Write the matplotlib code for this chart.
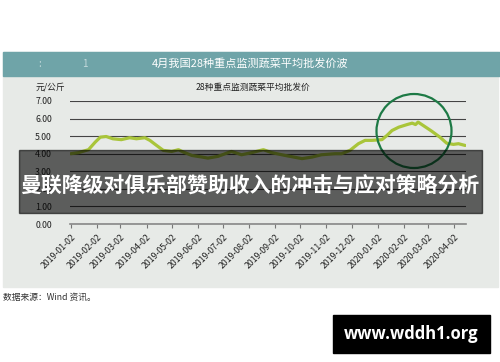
import matplotlib
matplotlib.use("Agg")
import matplotlib.pyplot as plt
import matplotlib.dates as mdates
import matplotlib.patches as mpatches
import numpy as np
import pandas as pd

plt.rcParams['font.family'] = ['Noto Sans CJK SC', 'DejaVu Sans']

# data (元/公斤)
dates = ["2019-01-02", "2019-01-11", "2019-01-23", "2019-01-31", "2019-02-06",
         "2019-02-13", "2019-02-21", "2019-03-03", "2019-03-13", "2019-03-21",
         "2019-03-31", "2019-04-06", "2019-04-14", "2019-04-22", "2019-05-02",
         "2019-05-10", "2019-05-16", "2019-05-26", "2019-06-07", "2019-06-14",
         "2019-06-26", "2019-07-12", "2019-07-24", "2019-08-05", "2019-08-19",
         "2019-08-29", "2019-09-14", "2019-10-04", "2019-10-16", "2019-10-27",
         "2019-11-12", "2019-11-20", "2019-11-30", "2019-12-10", "2019-12-18",
         "2019-12-26", "2020-01-07", "2020-01-13", "2020-01-19", "2020-01-27",
         "2020-02-06", "2020-02-12", "2020-02-16", "2020-02-19", "2020-02-25",
         "2020-03-06", "2020-03-16", "2020-03-24", "2020-04-01", "2020-04-07",
         "2020-04-15"]
prices = [4.00, 4.06, 4.23, 4.66, 4.94,
          4.98, 4.85, 4.80, 4.91, 4.85,
          4.91, 4.76, 4.47, 4.19, 4.13,
          4.23, 4.09, 3.90, 3.81, 3.75,
          3.85, 4.13, 3.94, 4.06, 4.23,
          4.06, 3.90, 3.72, 3.81, 3.94,
          4.00, 4.00, 4.19, 4.57, 4.76,
          4.76, 4.80, 5.04, 5.32, 5.51,
          5.66, 5.74, 5.66, 5.80, 5.61,
          5.29, 4.94, 4.60, 4.53, 4.57,
          4.47]
y_ticks = [0, 1, 2, 3, 4, 5, 6, 7]
tick_dates = pd.date_range("2019-01-01", "2020-04-01", freq="MS") + pd.Timedelta(days=1)

W, H = 500, 362
fig = plt.figure(figsize=(5.0, 3.62), dpi=100)
fig.patch.set_facecolor("white")

def fx(px):
    return px / W

def fy(py):
    return 1 - py / H

# card + header
fig.patches.append(mpatches.Rectangle((fx(3), fy(287)), fx(495), (287 - 52) / H,
                                      transform=fig.transFigure, color="#e7eae7", zorder=-2))
fig.patches.append(mpatches.Rectangle((fx(3), fy(76)), fx(497), 24 / H,
                                      transform=fig.transFigure, color="#6fa4a8", zorder=-1))
fig.text(fx(38), fy(64), ":", color="white", alpha=0.6, fontsize=7, va="center")
fig.text(fx(82), fy(64), "1", color="white", alpha=0.6, fontsize=7, va="center")
fig.text(fx(152), fy(64), "4月我国28种重点监测蔬菜平均批发价波", color="white",
         fontsize=8, va="center", ha="left")

fig.text(fx(36), fy(87), "元/公斤", fontsize=6.3, color="#222", va="center")
fig.text(fx(253), fy(87), "28种重点监测蔬菜平均批发价", fontsize=6.3, color="#222",
         va="center", ha="center")

ax = fig.add_axes([fx(70), fy(224), fx(396), 123 / H])
ax.set_facecolor("none")
x = pd.to_datetime(dates)
ax.plot(x, prices, color="#a9c53a", lw=2.3, solid_capstyle="round", zorder=3)

ax.set_ylim(0, 7)
ax.set_yticks(y_ticks)
ax.set_yticklabels([f"{v:.2f}" for v in y_ticks])
ax.set_xlim(pd.Timestamp("2019-01-01"), pd.Timestamp("2020-04-16"))
ax.set_xticks(tick_dates)
ax.xaxis.set_major_formatter(mdates.DateFormatter("%Y-%m-%d"))
for lab in ax.get_xticklabels():
    lab.set_rotation(45)
    lab.set_ha("right")
    lab.set_va("top")
    lab.set_rotation_mode("anchor")
ax.tick_params(axis="x", length=3, color="#777", labelsize=6.3, labelcolor="#222", pad=3)
ax.tick_params(axis="y", length=0, labelsize=6.3, labelcolor="#222", pad=13)
ax.yaxis.grid(True, color="#444", lw=0.8)
ax.set_axisbelow(True)
for s in ["top", "right", "left"]:
    ax.spines[s].set_visible(False)
ax.spines["bottom"].set_color("#888")
ax.spines["bottom"].set_linewidth(1.2)

# highlight circle
fig.patches.append(mpatches.Ellipse((fx(414), fy(131)), 75 / W, 74 / H,
                                    transform=fig.transFigure, fill=False,
                                    edgecolor="#1d7a45", lw=1.6, zorder=3))

# overlay banner
fig.patches.append(mpatches.Rectangle((fx(19), fy(213)), fx(463), 63 / H,
                                      transform=fig.transFigure, color="black",
                                      alpha=0.6, zorder=5))
fig.text(fx(250), fy(185), "曼联降级对俱乐部赞助收入的冲击与应对策略分析", color="white",
         fontsize=15, fontweight="bold", ha="center", va="center", zorder=6)

fig.text(fx(3), fy(297), "数据来源：Wind 资讯。", fontsize=6.3, color="#333", va="center")

fig.patches.append(mpatches.Rectangle((fx(333), fy(353)), fx(157), 38 / H,
                                      transform=fig.transFigure, color="black", zorder=5))
fig.text(fx(411), fy(334), "www.wddh1.org", color="white", fontsize=12,
         fontweight="bold", family=["Open Sans", "DejaVu Sans"],
         ha="center", va="center", zorder=6)

fig.savefig("out.png", dpi=100)
